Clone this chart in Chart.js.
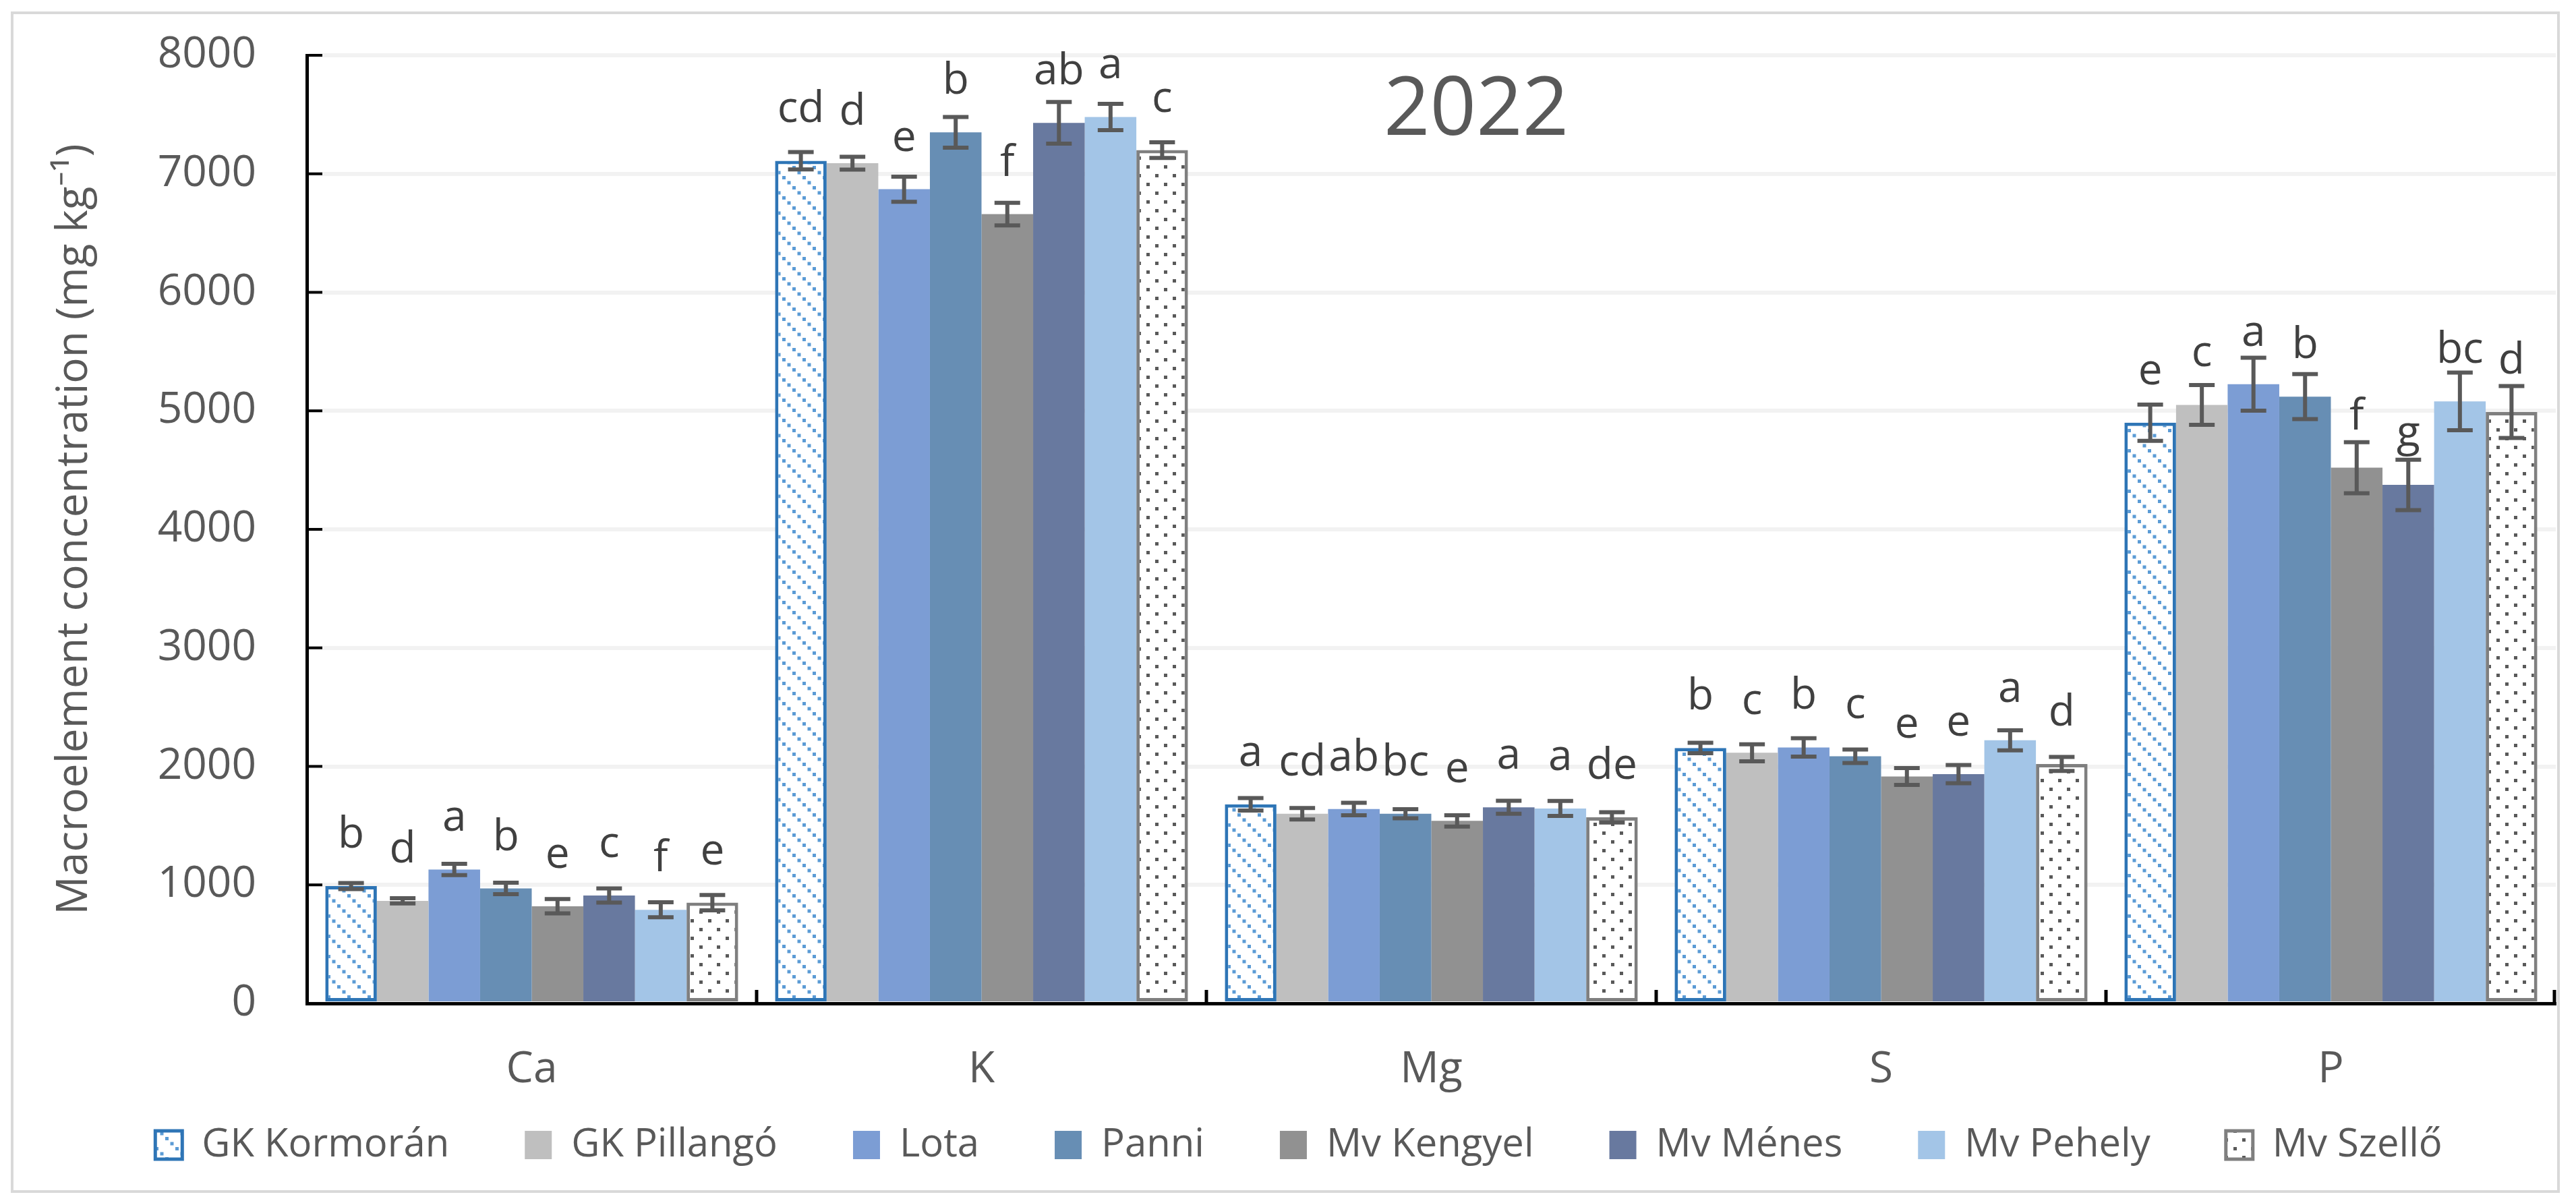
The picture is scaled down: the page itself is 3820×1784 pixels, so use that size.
<!DOCTYPE html>
<html>
<head>
<meta charset="utf-8">
<script src="https://cdn.jsdelivr.net/npm/chart.js@4.4.1/dist/chart.umd.min.js"></script>
<style>
  html, body { margin: 0; padding: 0; background: #fff; }
  #moldura { position: absolute; left: 16px; top: 17px; width: 3780px; height: 1752px; border: 4px solid #d9d9d9; box-sizing: border-box; background: #fff; }
  canvas { display: block; }
</style>
</head>
<body>
<div id="moldura"><canvas id="grafico" width="3772" height="1744"></canvas></div>
<script>
const elements = ['Ca', 'K', 'Mg', 'S', 'P'];
const cultivars = ['GK Kormorán', 'GK Pillangó', 'Lota', 'Panni', 'Mv Kengyel', 'Mv Ménes', 'Mv Pehely', 'Mv Szellő'];
const yTicks = [0, 1000, 2000, 3000, 4000, 5000, 6000, 7000, 8000];

// means per element, in cultivar order (mg kg-1)
const meanCa = [990, 865, 1130, 970, 820, 910, 790, 850];
const meanK  = [7110, 7090, 6870, 7350, 6660, 7430, 7480, 7200];
const meanMg = [1680, 1600, 1640, 1600, 1540, 1655, 1645, 1570];
const meanS  = [2155, 2115, 2160, 2085, 1915, 1935, 2220, 2020];
const meanP  = [4900, 5050, 5225, 5120, 4520, 4375, 5080, 4990];

// error bar half-lengths
const errCa = [25, 22, 48, 48, 60, 60, 63, 65];
const errK  = [73, 54, 106, 129, 95, 176, 111, 66];
const errMg = [53, 48, 53, 38, 48, 55, 63, 43];
const errS  = [44, 72, 77, 57, 71, 77, 85, 59];
const errP  = [153, 168, 223, 190, 216, 213, 243, 219];

// significance letters
const letCa = ['b', 'd', 'a', 'b', 'e', 'c', 'f', 'e'];
const letK  = ['cd', 'd', 'e', 'b', 'f', 'ab', 'a', 'c'];
const letMg = ['a', 'cd', 'ab', 'bc', 'e', 'a', 'a', 'de'];
const letS  = ['b', 'c', 'b', 'c', 'e', 'e', 'a', 'd'];
const letP  = ['e', 'c', 'a', 'b', 'f', 'g', 'bc', 'd'];

const colors = ['#2e75b6', '#bfbfbf', '#7c9dd4', '#678eb4', '#919191', '#68799f', '#a3c5e7', '#7f7f7f'];

const canvas = document.getElementById('grafico');
const ctx = canvas.getContext('2d');

function makePattern(size, draw) {
  const tile = document.createElement('canvas');
  tile.width = size; tile.height = size;
  const g = tile.getContext('2d');
  g.fillStyle = '#fff';
  g.fillRect(0, 0, size, size);
  draw(g);
  return ctx.createPattern(tile, 'repeat');
}

const hatch = makePattern(30, g => {
  g.fillStyle = '#5b9bd5';
  for (let i = 0; i < 30; i += 7.5) g.fillRect(i, i, 5, 5);
});
const dots = makePattern(26, g => {
  g.fillStyle = '#595959';
  g.fillRect(3, 3, 5, 5);
  g.fillRect(16, 16, 5, 5);
});

const means = [meanCa, meanK, meanMg, meanS, meanP];
const errs = [errCa, errK, errMg, errS, errP];
const lets = [letCa, letK, letMg, letS, letP];

const datasets = cultivars.map((name, i) => {
  let fill = colors[i];
  let border = 0;
  if (i === 0) { fill = hatch; border = 5; }
  if (i === 7) { fill = dots; border = 5; }
  return {
    label: name,
    data: means.map(m => m[i]),
    errors: errs.map(e => e[i]),
    letters: lets.map(l => l[i]),
    backgroundColor: fill,
    borderColor: colors[i],
    borderWidth: border,
    borderSkipped: false,
    categoryPercentage: 0.918,
    barPercentage: 1.0
  };
});

const errorBars = {
  id: 'errorBars',
  afterDatasetsDraw(chart) {
    const c = chart.ctx;
    const y = chart.scales.y;
    c.save();
    c.strokeStyle = '#595959';
    c.lineWidth = 6;
    chart.data.datasets.forEach((ds, i) => {
      chart.getDatasetMeta(i).data.forEach((bar, j) => {
        const top = y.getPixelForValue(ds.data[j] + ds.errors[j]);
        const bot = y.getPixelForValue(ds.data[j] - ds.errors[j]);
        c.beginPath();
        c.moveTo(bar.x, top); c.lineTo(bar.x, bot);
        c.moveTo(bar.x - 19, top); c.lineTo(bar.x + 19, top);
        c.moveTo(bar.x - 19, bot); c.lineTo(bar.x + 19, bot);
        c.stroke();
      });
    });
    // letters
    c.fillStyle = '#404040';
    c.font = "64px 'Open Sans'";
    c.textAlign = 'center';
    c.textBaseline = 'alphabetic';
    chart.data.datasets.forEach((ds, i) => {
      chart.getDatasetMeta(i).data.forEach((bar, j) => {
        c.fillText(ds.letters[j], bar.x, bar.y - 57);
      });
    });
    c.restore();
  }
};

const axisExtras = {
  id: 'axisExtras',
  afterDraw(chart) {
    const c = chart.ctx;
    const {x, y} = chart.scales;
    const area = chart.chartArea;
    c.save();
    c.strokeStyle = '#000';
    c.lineWidth = 4;
    c.beginPath();
    y.ticks.forEach(t => {
      const py = y.getPixelForValue(t.value);
      c.moveTo(area.left, py); c.lineTo(area.left + 23, py);
    });
    c.stroke();
    c.lineWidth = 5;
    c.beginPath();
    for (let k = 1; k <= elements.length; k++) {
      const px = k < elements.length ? (x.getPixelForValue(k - 1) + x.getPixelForValue(k)) / 2 : area.right - 2;
      c.moveTo(px, area.bottom); c.lineTo(px, area.bottom - 20);
    }
    c.stroke();
    // category labels under the axis
    c.fillStyle = '#595959';
    c.font = "64px 'Open Sans'";
    c.textAlign = 'center';
    c.textBaseline = 'middle';
    elements.forEach((name, k) => c.fillText(name, x.getPixelForValue(k), area.bottom + 99));
    // year label inside the plot
    c.font = "120px 'Open Sans'";
    c.fillText('2022', area.left + area.width * 0.52, area.top + 84);
    c.restore();
  }
};

Chart.defaults.font.family = "'Open Sans', sans-serif";

new Chart(ctx, {
  type: 'bar',
  data: { labels: elements, datasets },
  options: {
    responsive: false,
    animation: false,
    devicePixelRatio: 1,
    layout: { padding: { top: 61, right: 2, left: 42, bottom: 28 } },
    plugins: {
      tooltip: { enabled: false },
      legend: {
        position: 'bottom',
        labels: {
          boxWidth: 40,
          boxHeight: 42,
          padding: 112,
          color: '#595959',
          font: { size: 58 }
        }
      }
    },
    scales: {
      x: {
        grid: { display: false, drawTicks: false },
        border: { display: true, color: '#000', width: 5 },
        ticks: { display: false },
        afterFit(scale) { scale.height = 69; }
      },
      y: {
        min: 0,
        max: 8000,
        afterBuildTicks(scale) { scale.ticks = yTicks.map(v => ({ value: v })); },
        grid: { color: '#f2f2f2', lineWidth: 6, drawTicks: true, tickLength: 55, tickColor: 'rgba(0,0,0,0)' },
        border: { display: true, color: '#000', width: 5 },
        ticks: { color: '#595959', font: { size: 64 }, padding: 20, callback: v => String(v) },
        title: {
          display: true,
          text: 'Macroelement concentration (mg kg⁻¹)',
          color: '#595959',
          font: { size: 64 },
          padding: { top: 10, bottom: 0 }
        },
        afterFit(scale) { scale.width = 393; }
      }
    }
  },
  plugins: [errorBars, axisExtras]
});
</script>
</body>
</html>
